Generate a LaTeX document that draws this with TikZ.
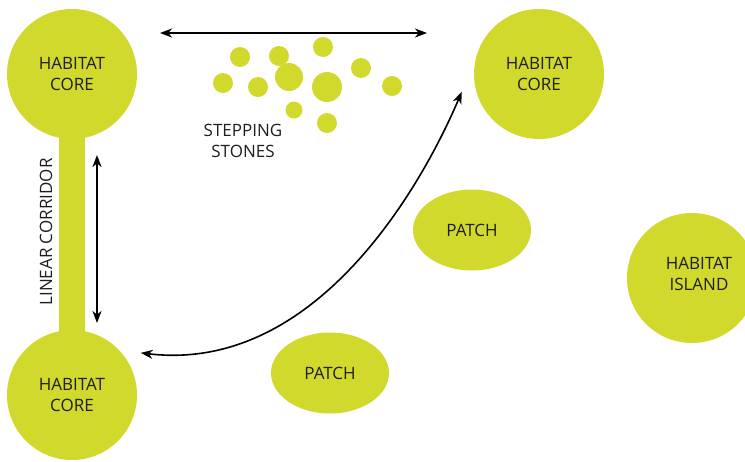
\documentclass[tikz,border=0pt]{standalone}
\usepackage{fontspec}
\setsansfont{Open Sans}
\usetikzlibrary{shapes.geometric,arrows.meta}
\definecolor{verdeHab}{RGB}{209,217,44}
\definecolor{tinta}{RGB}{30,30,30}
\tikzset{
  rotulo/.style={text=tinta, align=center, font=\sffamily\fontsize{8.5}{10.5}\selectfont},
  habitat/.style={rotulo, circle, fill=verdeHab, minimum size=65pt, inner sep=0pt},
  parche/.style={rotulo, ellipse, fill=verdeHab, minimum width=59pt, minimum height=40.5pt, inner sep=0pt},
  piedra/.style={circle, fill=verdeHab, inner sep=0pt},
  flecha/.style={{Stealth[length=6pt,width=4.5pt,inset=1.8pt]}-{Stealth[length=6pt,width=4.5pt,inset=1.8pt]}, line width=0.8pt}
}
\begin{document}
\begin{tikzpicture}[x=0.5pt, y=-0.5pt]
            \useasboundingbox (0,0) rectangle (745,461);

            % Corredor lineal
            \fill[verdeHab] (59,74) rectangle (85,395);
            \node[rotulo, rotate=90] (corredor) at (46,232) {LINEAR CORRIDOR};

            % Nucleos de habitat
            \node[habitat] (coreTL) at (72,74) {HABITAT\\CORE};
            \node[habitat] (coreBL) at (72,395) {HABITAT\\CORE};
            \node[habitat] (coreTR) at (539,74) {HABITAT\\CORE};
            \node[habitat, label={[rotulo, xshift=3.5pt, yshift=2pt]center:HABITAT\\ISLAND}] (isla) at (692,278) {};

            % Parches
            \node[parche] (parcheA) at (472,230) {PATCH};
            \node[parche] (parcheB) at (330,373) {PATCH};

            % Piedras de paso
            \foreach \x/\y/\r [count=\i] in {240/57/10, 279/56/10, 323/47/10, 223/83/10, 258/87/10, 289/77/14,
                                             327/87/15, 361/68/10, 392/86/10, 294/110/8.5, 327/123/10}
                \node[piedra, minimum size=\r pt] (piedra\i) at (\x,\y) {};
            \node[rotulo] (pasos) at (243,141) {STEPPING\\STONES};

            % Flechas
            \coordinate (saltoA) at (160,33);
            \coordinate (saltoB) at (427,33);
            \coordinate (corrA) at (97,155);
            \coordinate (corrB) at (97,323);
            \draw[flecha] (saltoA) -- (saltoB);
            \draw[flecha] (corrA) -- (corrB);
            \draw[flecha, shorten <=10.5pt, shorten >=17pt] (coreBL.43) .. controls (318,374) and (424,181) .. (coreTR.168);

        \end{tikzpicture}
\end{document}
